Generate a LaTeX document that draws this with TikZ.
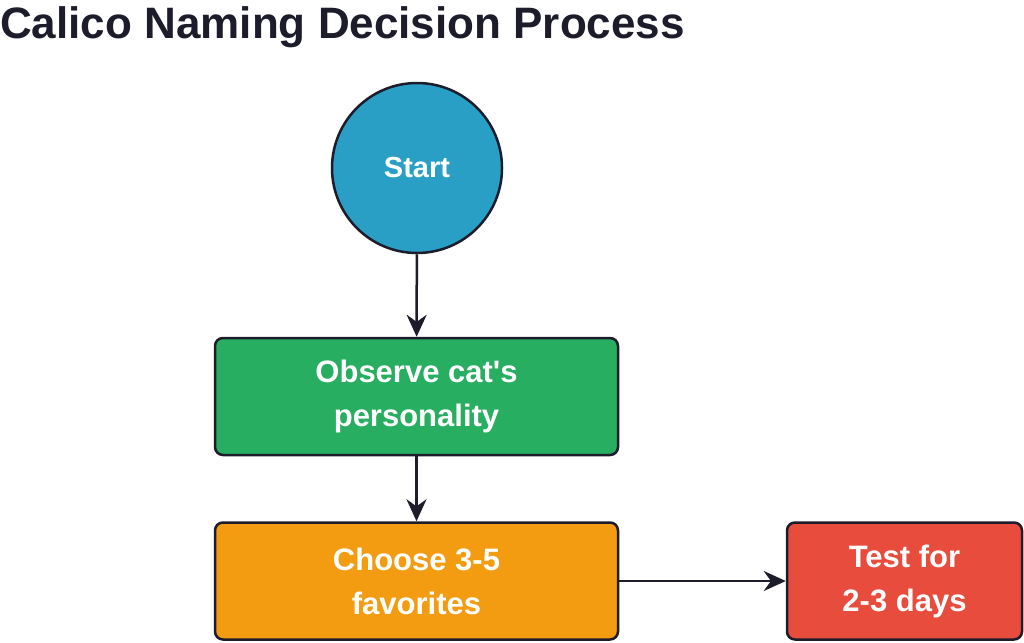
\documentclass[tikz,border=0pt]{standalone}
\usepackage{fontspec}
\setmainfont{Liberation Sans}
\usetikzlibrary{arrows.meta}
\definecolor{edge}{HTML}{1C1C2B}
\definecolor{cblue}{HTML}{2A9FC6}
\definecolor{cgreen}{HTML}{27AE60}
\definecolor{corange}{HTML}{F39C12}
\definecolor{cred}{HTML}{E74C3C}
\begin{document}
\begin{tikzpicture}[x=1pt,y=-1pt,
  box/.style={draw=edge,line width=2.5pt,rounded corners=8pt,text=white,font=\fontsize{31}{44}\selectfont\bfseries,align=center,inner sep=0pt},
  conn/.style={draw=edge,line width=2.5pt,-{Stealth[length=22pt,width=20pt]}}]
\useasboundingbox (0,0) rectangle (1024,642);
\node[anchor=base west,font=\fontsize{44}{48}\selectfont\bfseries,text=edge,inner sep=0pt] (title) at (0,38) {Calico Naming Decision Process};
\node[circle,draw=edge,line width=2.5pt,fill=cblue,minimum size=170pt,text=white,font=\fontsize{29}{34}\selectfont\bfseries] (start) at (417,168) {Start};
\node[box,fill=cgreen,minimum width=403pt,minimum height=117pt] (obs) at (416.5,396.5) {Observe cat\textquotesingle s\\personality};
\node[box,fill=corange,minimum width=403pt,minimum height=117pt] (choose) at (416.5,581) {Choose 3-5\\favorites};
\node[box,fill=cred,minimum width=235pt,minimum height=117pt] (test) at (904.5,581) {Test for\\2-3 days};
\draw[conn] (start) -- (obs);
\draw[conn] (obs) -- (choose);
\draw[conn] (choose) -- (test);
\end{tikzpicture}
\end{document}
